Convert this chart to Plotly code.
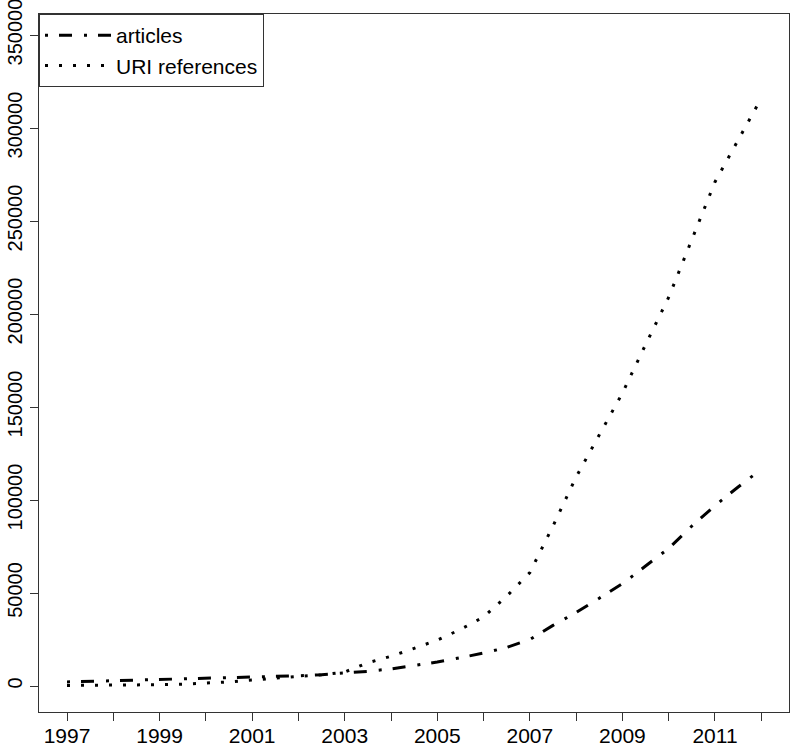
import plotly.graph_objects as go

# Time in decimal years (semi-annual readings)
years = [1997.0, 1997.5, 1998.0, 1998.5, 1999.0, 1999.5, 2000.0, 2000.5,
         2001.0, 2001.5, 2002.0, 2002.5, 2003.0, 2003.5, 2004.0, 2004.5,
         2005.0, 2005.5, 2006.0, 2006.5, 2007.0, 2007.5, 2008.0, 2008.5,
         2009.0, 2009.5, 2010.0, 2010.5, 2011.0, 2011.5, 2011.92]

articles = [2200, 2500, 2800, 3100, 3400, 3700, 4000, 4300,
            4600, 5000, 5500, 6100, 6800, 7900, 9200, 10900,
            12900, 15200, 17700, 20700, 25000, 32600, 39500, 47200,
            55000, 64500, 74000, 86000, 97000, 107000, 115000]

uri_refs = [300, 300, 400, 500, 700, 1000, 1500, 2200,
            3200, 4300, 5200, 6000, 7500, 12500, 16000, 20200,
            24700, 30400, 37100, 48300, 61000, 86000, 112400, 135000,
            157500, 183500, 209000, 240000, 271000, 293500, 312400]

x_tick_vals = list(range(1997, 2013))
x_tick_text = [str(y) if (y - 1997) % 2 == 0 else "" for y in x_tick_vals]
y_tick_vals = [0, 50000, 100000, 150000, 200000, 250000, 300000, 350000]
y_tick_text = [str(v) for v in y_tick_vals]

FONT = "Liberation Sans, Arial, Helvetica, sans-serif"

fig = go.Figure()
fig.add_trace(go.Scatter(
    x=years, y=articles, mode="lines", name="articles",
    line=dict(color="black", width=3, dash="3px,11px,13px,12px"),
))
fig.add_trace(go.Scatter(
    x=years, y=uri_refs, mode="lines", name="URI references",
    line=dict(color="black", width=3, dash="3px,11px"),
))

axis_common = dict(
    showgrid=False, zeroline=False, automargin=False,
    showline=True, mirror=True, linecolor="#333", linewidth=1,
    ticks="outside", ticklen=8, tickcolor="#333", tickwidth=1,
    ticklabeloverflow="allow",
)

fig.update_layout(
    width=795, height=749,
    margin=dict(l=39, r=6, t=14, b=37),
    paper_bgcolor="white", plot_bgcolor="white",
    xaxis=dict(range=[1996.395, 2012.599], tickmode="array",
               tickvals=x_tick_vals, ticktext=x_tick_text,
               ticklabelstandoff=-3,
               tickfont=dict(family=FONT, size=21, color="black"),
               **axis_common),
    yaxis=dict(range=[-13978, 361290], tickmode="array",
               tickvals=y_tick_vals, ticktext=y_tick_text, tickangle=-90,
               tickfont=dict(family=FONT, size=20, color="black"),
               **axis_common),
    legend=dict(x=0, y=1, xanchor="left", yanchor="top",
                bordercolor="#333", borderwidth=1, bgcolor="white",
                font=dict(family=FONT, size=21, color="black"),
                itemwidth=66),
    showlegend=True,
)

fig.write_html("out.html", config={"displayModeBar": False},
               post_script="document.body.style.margin='0';document.body.style.overflow='hidden';")
